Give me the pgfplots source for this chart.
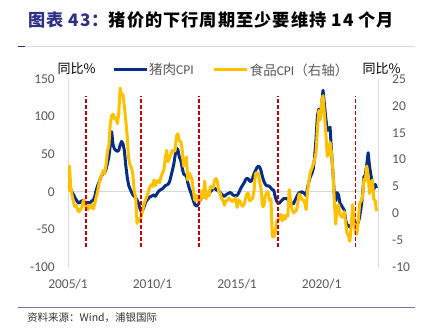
\documentclass[border=0pt]{standalone}
\usepackage{fontspec}
\setmainfont{Carlito}
\newfontfamily\cjk{Noto Sans CJK SC}
\newfontfamily\cjkt[LetterSpace=6]{Noto Sans CJK SC}
\usepackage{pgfplots}
\usepackage{pgfplotstable}
\pgfplotsset{compat=1.18}
\definecolor{pork}{HTML}{062E87}
\definecolor{food}{HTML}{FFC000}
\definecolor{redd}{HTML}{C80000}
\definecolor{ticktext}{HTML}{595959}
\definecolor{axgray}{HTML}{D9D9D9}
\definecolor{navy}{HTML}{2E2F86}
\definecolor{rulec}{HTML}{7472A8}
\pgfplotstableread{
idx P F
0 5 4.0
1 8 8.8
2 3 4.8
3 -1 3.2
4 -4 2.0
5 -8 1.2
6 -11 1.5
7 -14 0.5
8 -15 0.3
9 -13 0.8
10 -12 1.2
11 -11 2.4
12 -13 2.2
13 -15 1.0
14 -14 0.6
15 -15 1.5
16 -14 1.0
17 -12 1.6
18 -11 0.8
19 -6 1.8
20 2 3.0
21 8 4.0
22 13 5.5
23 18 6.6
24 22 7.0
25 24 8.0
26 25 7.4
27 30 9.0
28 38 11.6
29 46 12.5
30 62 16.6
31 80 18.2
32 62 18.4
33 57 17.6
34 55 17.8
35 54 16.7
36 55 18.5
37 62 23.3
38 67 22.0
39 64 22.1
40 55 19.9
41 35 17.3
42 20 14.4
43 9 10.3
44 4 9.0
45 0 8.5
46 -4 7.2
47 -6 4.2
48 -8 3.0
49 -11 -1.9
50 -15 -1.0
51 -22 -1.5
52 -27 -0.5
53 -24 0.5
54 -20 1.8
55 -14 2.5
56 -11 3.2
57 -9 4.0
58 -7 4.8
59 -6 5.3
60 -5 5.0
61 -4 6.2
62 -6 5.2
63 -3 5.9
64 0 6.1
65 2 5.7
66 3 6.8
67 4 7.5
68 6 8.0
69 8 10.1
70 9 11.7
71 10 9.6
72 13 10.3
73 20 11.0
74 28 11.7
75 36 11.5
76 48 11.7
77 58 14.4
78 56 14.8
79 46 13.4
80 42 13.4
81 32 11.9
82 24 8.8
83 22 9.1
84 22 10.5
85 12 6.2
86 5 7.5
87 0 7.0
88 -6 6.3
89 -12 4.2
90 -17 2.4
91 -19 3.4
92 -18 2.5
93 -14 2.0
94 -10 2.8
95 -7 4.2
96 -4 2.9
97 3 6.0
98 -2 2.7
99 -3 4.0
100 -2 3.2
101 0 4.9
102 2 5.0
103 4 4.7
104 5 6.1
105 3 6.5
106 2 5.9
107 1 4.1
108 -1 3.7
109 -3 2.7
110 -5 2.4
111 -6 1.5
112 -4 2.3
113 -3 2.4
114 -2 2.8
115 -1 2.6
116 -2 2.3
117 -4 2.2
118 -5 2.6
119 -5 2.9
120 -5 1.1
121 -2 2.4
122 2 2.3
123 6 1.6
124 9 1.3
125 12 1.7
126 16 2.7
127 18 3.7
128 17 3.7
129 14 2.3
130 14 2.6
131 18 2.7
132 24 4.1
133 28 7.3
134 32 7.6
135 34 7.4
136 33 5.9
137 28 4.6
138 20 1.3
139 14 1.3
140 10 3.2
141 8 3.8
142 8 4.0
143 7 2.4
144 5 2.7
145 3 -4.3
146 2 -4.4
147 -6 -3.5
148 -12 -1.6
149 -15 -1.2
150 -15 -1.1
151 -13 -0.2
152 -11 -1.4
153 -9 -0.4
154 -9 -1.1
155 -9 -0.4
156 -10 -0.5
157 -12 4.4
158 -14 2.1
159 -15 0.7
160 -16 0.1
161 -12 0.3
162 -8 0.5
163 -4 1.7
164 -1 3.6
165 -1 3.3
166 0 2.5
167 -1 2.5
168 -3 1.9
169 -5 0.7
170 5 4.1
171 14 6.1
172 20 7.7
173 24 8.3
174 30 9.1
175 46 10.0
176 70 11.2
177 101 15.5
178 110 19.1
179 97 17.4
180 116 20.6
181 135 21.9
182 116 18.3
183 97 14.8
184 82 10.6
185 82 11.1
186 86 13.2
187 53 11.2
188 26 7.9
189 -3 2.2
190 -12 -2.0
191 -1 1.2
192 -4 1.6
193 -15 -0.2
194 -18 -0.7
195 -21 -0.7
196 -24 0.3
197 -37 -1.7
198 -44 -3.7
199 -45 -4.1
200 -47 -5.2
201 -44 -2.4
202 -33 1.6
203 -37 -1.2
204 -42 -3.8
205 -43 -3.9
206 -41 -1.5
207 -33 1.9
208 -21 2.3
209 -6 2.9
210 20 6.3
211 22 6.1
212 36 8.8
213 52 7.0
214 34 3.7
215 22 4.8
216 12 6.2
217 3 2.6
218 10 2.4
219 5 0.4
}\datatable
\newcommand{\tfont}{\fontsize{13.5bp}{16bp}\selectfont}
\begin{document}
\begin{tikzpicture}
\path[use as bounding box] (-68bp,-66bp) rectangle (356bp,267bp);
% title
\node[anchor=west, inner sep=0pt] at (-40bp,247.5bp) {\fontsize{17.2bp}{20bp}\selectfont\cjkt\bfseries {\color{navy}图表 43：}猪价的下行周期至少要维持 14 个月};
\draw[axgray, line width=0.6bp] (-48bp,221bp) -- (347bp,221bp);
\draw[navy, line width=1.4bp] (-50bp,220.5bp) -- (-43bp,220.5bp);
% bottom rule and source
\draw[rulec, line width=1bp] (-50bp,-40bp) -- (347bp,-40bp);
\node[anchor=west, inner sep=0pt, text=black!80] at (-41bp,-51bp) {\fontsize{10.5bp}{12bp}\selectfont\cjk 资料来源：Wind，浦银国际};
% unit labels
\node[inner sep=0pt] at (8.5bp,198.5bp) {\fontsize{13bp}{15bp}\selectfont\cjk 同比\%};
\node[inner sep=0pt] at (313.5bp,198.5bp) {\fontsize{13bp}{15bp}\selectfont\cjk 同比\%};
\begin{axis}[
  at={(0,0)}, anchor=south west, scale only axis,
  width=310bp, height=188bp,
  xmin=0, xmax=220, ymin=-100, ymax=150,
  axis x line*=bottom, axis y line*=left,
  x axis line style={draw=none},
  y axis line style={draw=axgray, line width=0.75bp, -},
  xtick={0,60,120,180}, xticklabels={2005/1,2010/1,2015/1,2020/1},
  ytick={-100,-50,0,50,100,150}, yticklabels={-100,-50,0,50,100,150},
  major tick length=0pt,
  tick label style={font=\tfont, text=ticktext},
  yticklabel style={inner sep=0pt, xshift=-13bp},
  xticklabel style={inner sep=0pt, yshift=-12bp},
]
\draw[axgray, line width=0.75bp] (axis cs:0,0) -- (axis cs:220,0);
\addplot[pork, line width=3bp, line join=round] table[x=idx, y=P] {\datatable};
\end{axis}
\begin{axis}[
  at={(0,0)}, anchor=south west, scale only axis,
  width=310bp, height=188bp,
  xmin=0, xmax=220, ymin=-10, ymax=25,
  axis x line=none, axis y line*=right,
  y axis line style={draw=axgray, line width=0.75bp, -},
  ytick={-10,-5,0,5,10,15,20,25}, yticklabels={-10,-5,0,5,10,15,20,25},
  major tick length=0pt,
  tick label style={font=\tfont, text=ticktext},
  yticklabel style={inner sep=0pt, xshift=14bp},
  legend columns=2,
  legend image code/.code={\draw[#1] (0bp,0bp) -- (33bp,0bp);},
  legend style={draw=none, fill=none, at={(axis description cs:0.1419,1.0479)}, anchor=west,
    inner xsep=0pt, inner ysep=0pt, font=\tfont, text=ticktext,
    nodes={inner sep=1bp},
    /tikz/every even column/.append style={column sep=18bp}},
]
\addlegendimage{pork, line width=3bp}
\addlegendentry{{\cjk 猪肉}CPI}
\addplot[food, line width=3bp, line join=round] table[x=idx, y=F] {\datatable};
\addlegendentry{{\cjk 食品}CPI{\cjk （右轴）}}
\addplot[redd, line width=1.9bp, dash pattern=on 4bp off 2bp, forget plot] coordinates {(13,-6.2) (13,21.8)};
\addplot[redd, line width=1.9bp, dash pattern=on 4bp off 2bp, forget plot] coordinates {(52,-6.2) (52,21.8)};
\addplot[redd, line width=1.9bp, dash pattern=on 4bp off 2bp, forget plot] coordinates {(93,-6.2) (93,21.8)};
\addplot[redd, line width=1.9bp, dash pattern=on 4bp off 2bp, forget plot] coordinates {(149,-6.2) (149,21.8)};
\addplot[redd, line width=1.9bp, dash pattern=on 4bp off 2bp, forget plot] coordinates {(204,-6.2) (204,21.8)};
\end{axis}
\end{tikzpicture}
\end{document}
